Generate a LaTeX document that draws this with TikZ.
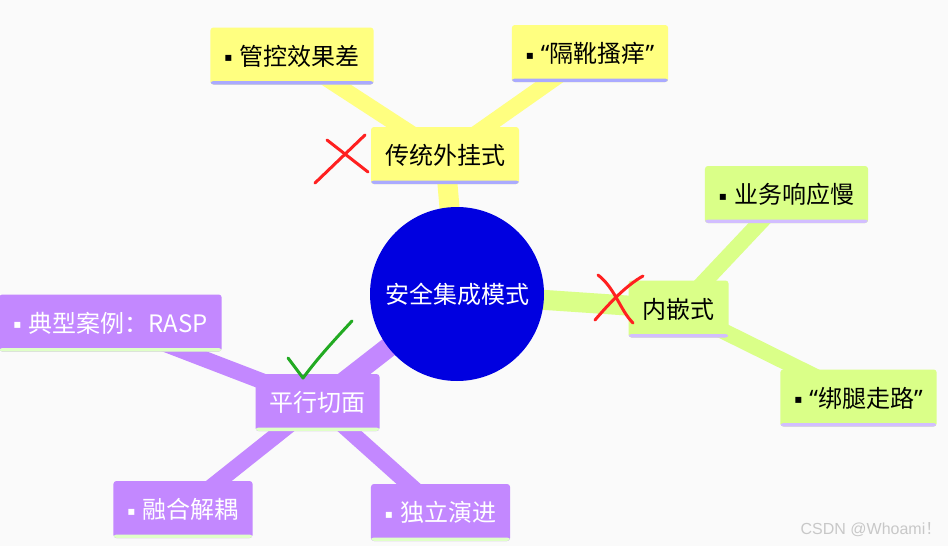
\documentclass[tikz,border=0pt]{standalone}
\usepackage{fontspec}
\setmainfont{Noto Sans CJK SC}
\newfontfamily\symfont{DejaVu Sans}
\newfontfamily\quotefont{Noto Sans}
\newfontfamily\wmfont{Liberation Sans}
\usepackage{tikz}
\usetikzlibrary{arrows}

\definecolor{bgcol}{HTML}{FAFAFA}
\definecolor{rootblue}{HTML}{0000E0}
\definecolor{tradyellow}{HTML}{FFFF80}
\definecolor{tradline}{HTML}{AAAAFF}
\definecolor{embgreen}{HTML}{DAFF88}
\definecolor{embline}{HTML}{D2BEFF}
\definecolor{parpurple}{HTML}{C388FF}
\definecolor{parline}{HTML}{E0FFC8}
\definecolor{crossred}{HTML}{FF2020}
\definecolor{tickgreen}{HTML}{22AA22}
\definecolor{wmgray}{HTML}{C8C8C8}

\pgfdeclarelayer{bg}
\pgfdeclarelayer{links}
\pgfsetlayers{bg,links,main}

\newcommand{\leafdot}{\raisebox{3.5pt}{\symfont\fontsize{12}{12}\selectfont ▪}\hspace{7pt}}
\newcommand{\openq}{{\quotefont “}}
\newcommand{\closeq}{{\quotefont ”}}

\begin{document}
\begin{tikzpicture}[x=1pt,y=-1pt,
  every node/.style={outer sep=0pt},
  box/.style={rectangle, rounded corners=3pt, fill=#1, minimum height=57pt,
    inner xsep=14pt, inner ysep=0pt, text height=20pt, text depth=2pt,
    font=\fontsize{24}{24}\selectfont},
  bar/.style={path picture={\fill[#1] ([yshift=3.5pt]path picture bounding box.south west)
    rectangle (path picture bounding box.south east);}},
  trad/.style={box=tradyellow, bar=tradline},
  emb/.style={box=embgreen, bar=embline},
  par/.style={box=parpurple, bar=parline, text=white},
  root/.style={circle, fill=rootblue, text=white, minimum size=174pt, inner sep=0pt,
    text height=20pt, text depth=2pt, font=\fontsize{24}{24}\selectfont},
  mainlink/.style={line width=20pt},
  leaflink/.style={line width=16pt},
  cross/.style={crossred, line width=3pt, line cap=round},
  tick/.style={tickgreen, line width=3pt, line cap=round, line join=round}]
  \useasboundingbox (0,0) rectangle (948,546);
  \begin{pgfonlayer}{bg}
    \fill[bgcol] (0,0) rectangle (948,546);
  \end{pgfonlayer}

  \node[root]  (0)  at (457,294)   {安全集成模式};
  \node[trad]  (1)  at (445,155.5) {传统外挂式};
  \node[emb]   (2)  at (678.5,309) {内嵌式};
  \node[par]   (3)  at (317.5,402.5) {平行切面};
  \node[trad]  (11) at (292,56)    {\leafdot 管控效果差};
  \node[trad]  (12) at (590,53.5)  {\leafdot\openq 隔靴搔痒\closeq};
  \node[emb]   (21) at (786.5,194.5) {\leafdot 业务响应慢};
  \node[emb]   (22) at (858.5,398) {\leafdot\openq 绑腿走路\closeq};
  \node[par]   (31) at (110.5,323) {\leafdot 典型案例：RASP};
  \node[par]   (32) at (183,509.5) {\leafdot 融合解耦};
  \node[par]   (33) at (440.5,512.5) {\leafdot 独立演进};

  \begin{pgfonlayer}{links}
    \draw[mainlink, tradyellow] (0.center) -- (1.center);
    \draw[mainlink, embgreen]   (0.center) -- (2.center);
    \draw[mainlink, parpurple]  (0.center) -- (3.center);
    \draw[leaflink, tradyellow] (1.center) -- (11.center);
    \draw[leaflink, tradyellow] (1.center) -- (12.center);
    \draw[leaflink, embgreen]   (2.center) -- (21.center);
    \draw[leaflink, embgreen]   (2.center) -- (22.center);
    \draw[leaflink, parpurple]  (3.center) -- (31.center);
    \draw[leaflink, parpurple]  (3.center) -- (32.center);
    \draw[leaflink, parpurple]  (3.center) -- (33.center);
  \end{pgfonlayer}

  % marks drawn by hand
  \draw[cross] (327,140) -- (368,172);
  \draw[cross] (365,135) -- (315,183);
  \draw[cross] (598,275) .. controls (615,288) and (620,310) .. (633,323);
  \draw[cross] (643,276) .. controls (625,286) and (607,306) .. (595,320);
  \draw[tick] (288,358) -- (303,378) .. controls (315,362) and (325,350) .. (352,321);

  \node[text=wmgray, font=\fontsize{16}{16}\selectfont] (wm) at (871,530) {{\wmfont CSDN @Whoami}！};
\end{tikzpicture}
\end{document}
